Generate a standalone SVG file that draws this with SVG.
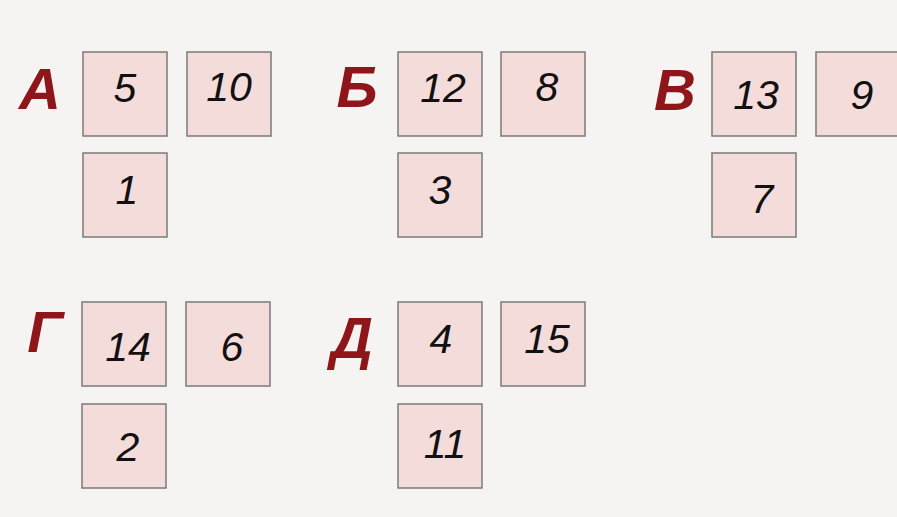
<svg xmlns="http://www.w3.org/2000/svg" width="897" height="517" viewBox="0 0 897 517">
<style>
.bg{fill:#f6f4f2}
.box{fill:#f4dcda;stroke:#7a7a7a;stroke-width:1.5}
.num{font-family:"Liberation Sans",Arial,sans-serif;font-style:italic;font-size:41px;fill:#111;text-anchor:middle}
.let{font-family:"Liberation Sans",Arial,sans-serif;font-style:italic;font-weight:bold;font-size:58px;fill:#8e1519;text-anchor:middle}
</style>
<rect class="bg" x="0" y="0" width="897" height="517"/>
<g id="group-A">
<text class="let" x="40" y="109">А</text>
<g id="n5"><rect class="box" x="83" y="52" width="84" height="84"/><text class="num" x="125" y="102">5</text></g>
<g id="n10"><rect class="box" x="187" y="52" width="84" height="84"/><text class="num" x="229" y="101">10</text></g>
<g id="n1"><rect class="box" x="83" y="153" width="84" height="84"/><text class="num" x="127" y="204">1</text></g>
</g>
<g id="group-B">
<text class="let" x="357" y="107">Б</text>
<g id="n12"><rect class="box" x="398" y="52" width="84" height="84"/><text class="num" x="443" y="102">12</text></g>
<g id="n8"><rect class="box" x="501" y="52" width="84" height="84"/><text class="num" x="547" y="101">8</text></g>
<g id="n3"><rect class="box" x="398" y="153" width="84" height="84"/><text class="num" x="440" y="204">3</text></g>
</g>
<g id="group-V">
<text class="let" x="675" y="110">В</text>
<g id="n13"><rect class="box" x="712" y="52" width="84" height="84"/><text class="num" x="756" y="109">13</text></g>
<g id="n9"><rect class="box" x="816" y="52" width="84" height="84"/><text class="num" x="862" y="109">9</text></g>
<g id="n7"><rect class="box" x="712" y="153" width="84" height="84"/><text class="num" x="762" y="213">7</text></g>
</g>
<g id="group-G">
<text class="let" x="45" y="352">Г</text>
<g id="n14"><rect class="box" x="82" y="302" width="84" height="84"/><text class="num" x="128" y="361">14</text></g>
<g id="n6"><rect class="box" x="186" y="302" width="84" height="84"/><text class="num" x="232" y="361">6</text></g>
<g id="n2"><rect class="box" x="82" y="404" width="84" height="84"/><text class="num" x="128" y="461">2</text></g>
</g>
<g id="group-D">
<text class="let" x="352" y="358">Д</text>
<g id="n4"><rect class="box" x="398" y="302" width="84" height="84"/><text class="num" x="441" y="353">4</text></g>
<g id="n15"><rect class="box" x="501" y="302" width="84" height="84"/><text class="num" x="547" y="353">15</text></g>
<g id="n11"><rect class="box" x="398" y="404" width="84" height="84"/><text class="num" x="445" y="458">11</text></g>
</g>
<g id="connectors"></g>
</svg>
